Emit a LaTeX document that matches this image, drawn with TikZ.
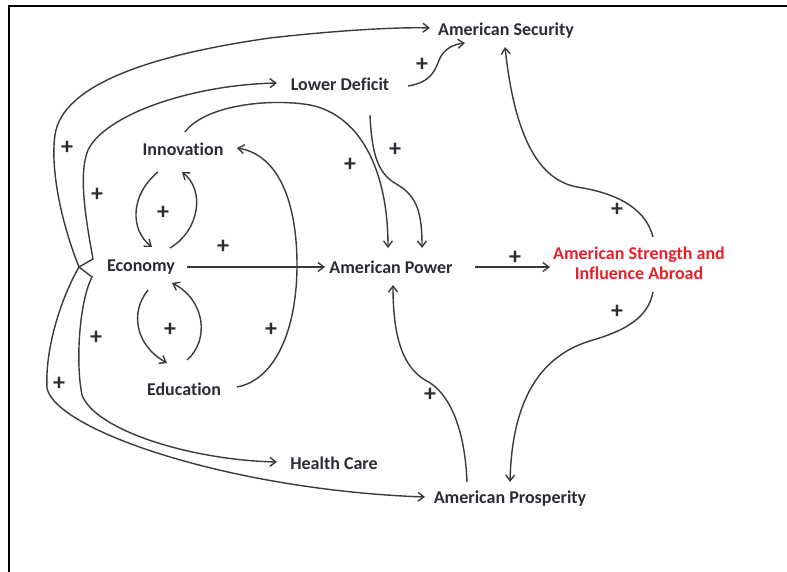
\documentclass[tikz,border=0pt]{standalone}
\usepackage{fontspec}
\setmainfont{Carlito}[Ligatures=NoCommon,Contextuals=NoAlternate]
\usepackage{xcolor}
\usetikzlibrary{calc,arrows.meta}
\definecolor{ink}{HTML}{2B2B33}
\definecolor{hot}{HTML}{E8202A}
\definecolor{wire}{HTML}{3A3A3A}
\tikzset{
  lbl/.style={inner sep=2pt,text=ink},
  sign/.style={inner sep=0pt,text=ink,font=\fontsize{24}{24}\selectfont\bfseries},
  link/.style={draw=wire,line width=1.4pt,-{Straight Barb[length=6pt,width=9pt]}}
}
\begin{document}
\begin{tikzpicture}[x=1pt,y=-1pt,font=\fontsize{18}{20}\selectfont\bfseries]
\useasboundingbox (0,0) rectangle (787,572);
\draw[line width=2pt] (9,572) -- (9,6) -- (787,6);
% nodes
\node[lbl] (sec) at (506,31) {American Security};
\node[lbl] (ld) at (340,84) {Lower Deficit};
\node[lbl] (innov) at (183,149) {Innovation};
\node[lbl] (econ) at (141,267) {Economy};
\node[lbl] (pow) at (391,267) {American Power};
\node[lbl,text=hot,align=center] (str) at (639,263) {American Strength and\\Influence Abroad};
\node[lbl] (edu) at (184,389) {Education};
\node[lbl] (hc) at (334,463) {Health Care};
\node[lbl] (pros) at (510,499) {American Prosperity};
% junction left of Economy
\coordinate (cusp) at ($(econ)+(-62,0)$);
\coordinate (jup) at ($(econ)+(-48,-8)$);
\coordinate (jdn) at ($(econ)+(-49,10)$);
\draw[link] (cusp) .. controls (62,225) and (50,170) .. (55,135) .. controls (62,85) and (150,55) .. (270,38) .. controls (340,30) and (400,27) .. ($(sec)+(-76,-3)$);
\draw[link] (cusp) -- (jup) .. controls (86,220) and (78,175) .. (88,150) .. controls (105,115) and (190,85) .. ($(ld)+(-63,-1)$);
\draw[link] (cusp) -- (jdn) .. controls (80,300) and (75,360) .. (82,395) .. controls (95,430) and (190,460) .. ($(hc)+(-57,-1)$);
\draw[link] (cusp) .. controls (60,300) and (45,350) .. (47,388) .. controls (55,430) and (230,490) .. ($(pros)+(-85,-2)$);
% small loops
\draw[link] ($(innov)+(-25,23)$) .. controls (130,195) and (130,230) .. ($(econ)+(11,-20)$);
\draw[link] ($(econ)+(29,-19)$) .. controls (200,230) and (205,190) .. ($(innov)+(-1,23)$);
\draw[link] ($(econ)+(7,23)$) .. controls (130,312) and (135,345) .. ($(edu)+(-17,-26)$);
\draw[link] ($(edu)+(3,-29)$) .. controls (210,340) and (205,300) .. ($(econ)+(31,16)$);
\draw[link] ($(econ)+(46,0)$) -- ($(pow)+(-66,0)$);
\draw[link] ($(edu)+(53,-2)$) .. controls (275,380) and (297,330) .. (297,265) .. controls (297,205) and (280,155) .. ($(innov)+(54,-1)$);
\draw[link] ($(innov)+(2,-17)$) .. controls (205,105) and (270,98) .. (310,105) .. controls (360,115) and (388,170) .. ($(pow)+(-3,-19)$);
\draw[link] ($(ld)+(30,31)$) .. controls (372,160) and (380,175) .. (398,185) .. controls (418,197) and (422,215) .. ($(pow)+(31,-19)$);
\draw[link] ($(ld)+(68,2)$) .. controls (432,82) and (435,70) .. (440,58) .. controls (445,48) and (455,44) .. ($(sec)+(-41,12)$);
\draw[link] ($(pow)+(84,0)$) -- ($(str)+(-89,4)$);
\draw[link] ($(str)+(14,-26)$) .. controls (645,205) and (610,192) .. (577,187) .. controls (540,180) and (515,140) .. ($(sec)+(-1,16)$);
\draw[link] ($(str)+(14,29)$) .. controls (648,320) and (620,332) .. (593,340) .. controls (540,355) and (512,400) .. ($(pros)+(0,-17)$);
\draw[link] ($(pros)+(-43,-17)$) .. controls (465,430) and (450,392) .. (425,380) .. controls (400,365) and (393,330) .. ($(pow)+(2,18)$);
% polarity signs
\foreach \px/\py [count=\k] in {67/148,97/195,96/338,59/384,163/213,170/330,223/247,271/330,350/165,395/150,422/65,515/258,617/210,617/312,430/395}
  \node[sign] (plus\k) at (\px,\py) {+};
\end{tikzpicture}
\end{document}
